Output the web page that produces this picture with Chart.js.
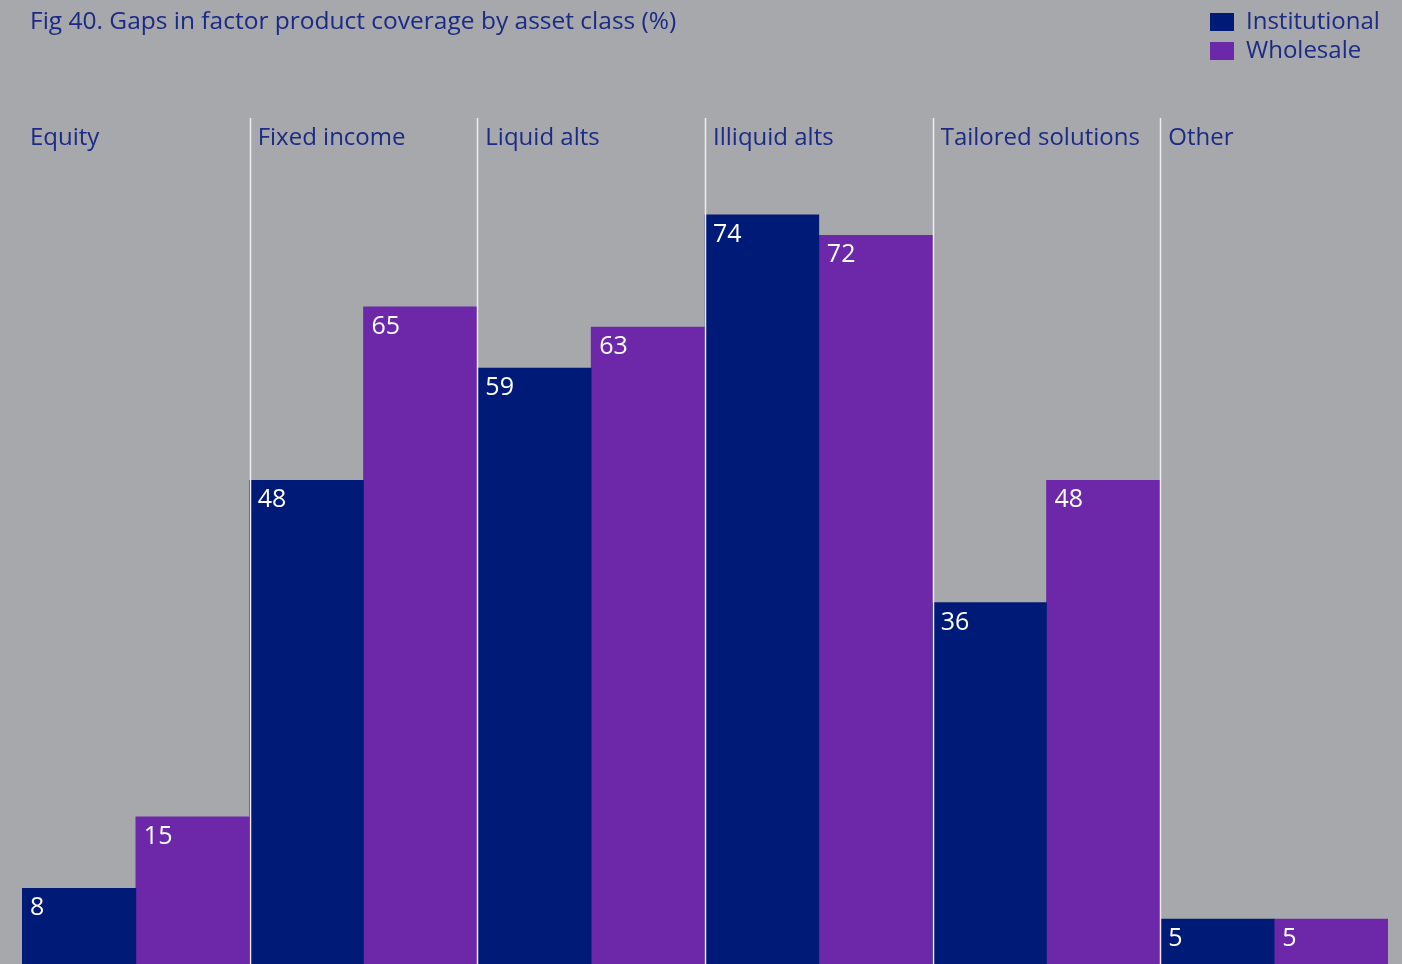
<!DOCTYPE html>
<html>
<head>
<meta charset="utf-8">
<script src="https://cdn.jsdelivr.net/npm/chart.js@4/dist/chart.umd.min.js"></script>
<style>
  html, body { margin: 0; padding: 0; background: #a7a8ab; overflow: hidden; }
  #wrap { position: relative; width: 1402px; height: 970px; }
  #title {
    position: absolute; left: 30px; top: 3px;
    font-family: "Open Sans", sans-serif; font-size: 24.5px; color: #1b2a86;
    white-space: nowrap;
  }
  #legend {
    position: absolute; left: 1210px; top: 5px;
    font-family: "Open Sans", sans-serif; font-size: 24px; color: #1b2a86;
  }
  #legend div { height: 29px; line-height: 29px; white-space: nowrap; }
  #legend span.box { display: inline-block; width: 24px; height: 18px; margin-right: 12px; vertical-align: -2px; }
  canvas { position: absolute; left: 0; top: 0; }
</style>
</head>
<body>
<div id="wrap">
  <canvas id="gapChart" width="1402" height="970"></canvas>
  <div id="title">Fig 40. Gaps in factor product coverage by asset class (%)</div>
  <div id="legend"></div>
</div>
<script>
const categories = ["Equity", "Fixed income", "Liquid alts", "Illiquid alts", "Tailored solutions", "Other"];
const institutional = [8, 48, 59, 74, 36, 5];
const wholesale = [15, 65, 63, 72, 48, 5];
const seriesNames = ["Institutional", "Wholesale"];
const seriesColors = ["#001a78", "#6c28a8"];

const textColor = "#1b2a86";
const fontFamily = '"Open Sans", sans-serif';

// legend in html
const legendEl = document.getElementById("legend");
seriesNames.forEach((name, i) => {
  const row = document.createElement("div");
  const box = document.createElement("span");
  box.className = "box";
  box.style.background = seriesColors[i];
  row.appendChild(box);
  row.appendChild(document.createTextNode(name));
  legendEl.appendChild(row);
});

// group labels, dividers and value labels
const decorPlugin = {
  id: "decor",
  afterDatasetsDraw(chart) {
    const ctx = chart.ctx;
    const area = chart.chartArea;
    const xScale = chart.scales.x;
    const step = xScale.getPixelForValue(1) - xScale.getPixelForValue(0);

    ctx.save();
    // dividers between groups
    ctx.strokeStyle = "#ececf2";
    ctx.lineWidth = 1.5;
    for (let i = 1; i < categories.length; i++) {
      const x = Math.round(xScale.getPixelForValue(i) - step / 2) + 0.5;
      ctx.beginPath();
      ctx.moveTo(x, area.top);
      ctx.lineTo(x, area.bottom);
      ctx.stroke();
    }

    // category labels
    ctx.font = "24px " + fontFamily;
    ctx.fillStyle = textColor;
    ctx.textBaseline = "middle";
    ctx.textAlign = "left";
    categories.forEach((cat, i) => {
      const left = xScale.getPixelForValue(i) - step / 2;
      ctx.fillText(cat, left + 8, area.top + 20);
    });

    // value labels inside bars
    ctx.font = "25px " + fontFamily;
    ctx.fillStyle = "#ffffff";
    chart.data.datasets.forEach((ds, di) => {
      const meta = chart.getDatasetMeta(di);
      meta.data.forEach((bar, i) => {
        const left = bar.x - bar.width / 2;
        ctx.fillText(String(ds.data[i]), left + 8, bar.y + 20);
      });
    });
    ctx.restore();
  },
};

const gapChart = new Chart(document.getElementById("gapChart"), {
  type: "bar",
  data: {
    labels: categories,
    datasets: [
      { label: seriesNames[0], data: institutional, backgroundColor: seriesColors[0] },
      { label: seriesNames[1], data: wholesale, backgroundColor: seriesColors[1] },
    ],
  },
  options: {
    responsive: false,
    animation: false,
    layout: { padding: { left: 22, right: 14, top: 118, bottom: 0 } },
    datasets: { bar: { categoryPercentage: 1, barPercentage: 1, borderWidth: 0 } },
    plugins: { legend: { display: false }, title: { display: false }, tooltip: { enabled: false } },
    scales: {
      x: { display: false, grid: { display: false } },
      y: { display: false, min: 0, max: 83.5, grid: { display: false } },
    },
  },
  plugins: [decorPlugin],
});
</script>
</body>
</html>
